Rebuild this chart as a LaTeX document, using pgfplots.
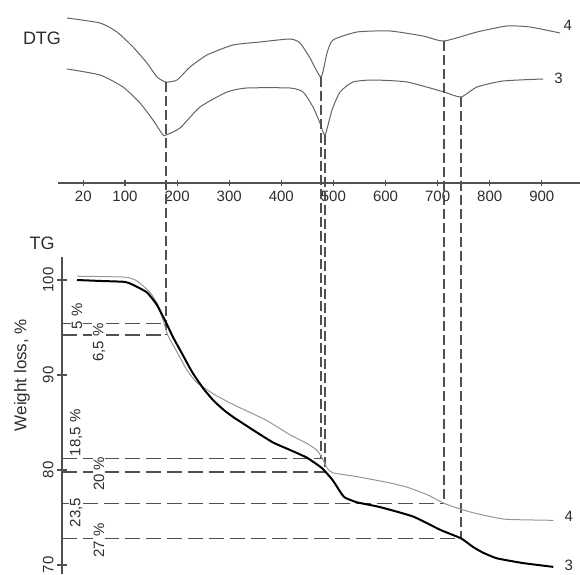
\documentclass[border=0pt]{standalone}
\usepackage{fontspec}
\setmainfont{Liberation Sans}
\usepackage{pgfplots}
\pgfplotsset{compat=1.18}

\definecolor{axisgray}{RGB}{80,80,80}
\definecolor{dtggray}{RGB}{100,100,100}
\definecolor{tgfour}{RGB}{150,150,150}
\definecolor{txt}{RGB}{45,45,45}

\pgfplotstableread{
T D
-11.3 165
52.0 160
84.6 151
115.4 136
142.2 120
161.4 106
178.7 101
199.8 103
224.8 116
257.4 128
307.3 138
359.1 141
416.7 144
435.9 140
455.1 125
476.2 106
487.7 130
499.2 143
545.3 151
608.6 152
672.0 147
712.3 142
775.6 151
833.2 157
877.4 156
934.9 150
}\dtgfour

\pgfplotstableread{
T D
-11.3 114
52.0 108
96.2 96
128.8 80
153.7 63
172.9 48
178.7 48
205.6 55
244.0 76
295.8 91
334.2 95
416.7 95
441.7 91
460.8 76
474.3 60
483.9 48
497.3 73
512.7 91
537.6 101
576.0 103
641.3 101
712.3 91
744.9 86
775.6 96
825.5 102
902.3 104
}\dtgthree

\pgfplotstableread{
T W
7.9 100.4
100 100.3
123 99.9
148 98.7
163 97.4
173 95.8
182 94.2
198 92.6
219 90.5
238 89.2
273 87.9
311 86.8
369 85.3
417 83.7
449 82.8
468 82.1
478 81.3
488 80.2
499 79.7
545 79.3
603 78.7
641 78.2
680 77.4
712 76.5
737 76.0
768 75.5
801 75.1
833 74.8
922 74.7
}\tgfour

\pgfplotstableread{
T W
7.9 100
52 99.9
100 99.8
115 99.5
142 98.7
161 97.4
179 95.5
192 94.0
209 92.3
229 90.3
250 88.6
270 87.3
290 86.3
307 85.6
346 84.2
384 82.9
417 82.1
449 81.3
478 80.2
499 78.9
513 77.7
522 77.1
545 76.6
589 76.1
653 75.1
705 73.7
745 72.8
768 71.9
787 71.3
814 70.7
864 70.2
922 69.8
}\tgthree

\begin{document}
\begin{tikzpicture}[x=1pt,y=1pt]
\useasboundingbox (0,0) rectangle (580,574);

% DTG panel
\begin{axis}[
  at={(58pt,391pt)}, anchor=south west,
  scale only axis, width=522pt, height=183pt,
  xmin=-28.6, xmax=973.3, ymin=0, ymax=183,
  axis x line*=bottom, axis y line=none,
  axis line style={axisgray, line width=1.3pt},
  xtick={20,100,200,300,400,500,600,700,800,900},
  ytick=\empty,
  tick align=center, major tick length=6pt,
  tick style={axisgray, line width=1.1pt},
  xticklabel style={font=\fontsize{15}{17}\selectfont, text=txt, yshift=-1pt},
  /pgf/number format/assume math mode=true,
  clip=false,
]
\addplot[dtggray, line width=1pt, smooth, tension=0.35] table[x=T, y=D] {\dtgfour};
\addplot[dtggray, line width=1pt, smooth, tension=0.35] table[x=T, y=D] {\dtgthree};
\node[text=txt, font=\fontsize{15}{17}\selectfont] at (axis cs:950,158) {4};
\node[text=txt, font=\fontsize{15}{17}\selectfont] at (axis cs:932,105) {3};
\end{axis}

% TG panel
\begin{axis}[
  at={(62pt,0pt)}, anchor=south west,
  scale only axis, width=518pt, height=316.8pt,
  xmin=-20.9, xmax=973.3, ymin=69.05, ymax=102.4,
  axis y line*=left, axis x line=none,
  axis line style={axisgray, line width=1.3pt},
  xtick=\empty, ytick={70,80,90,100},
  tick align=center, major tick length=10pt,
  tick style={axisgray, line width=1.1pt},
  yticklabel style={rotate=90, anchor=south, font=\fontsize{15}{17}\selectfont, text=txt},
  /pgf/number format/assume math mode=true,
  clip=false,
]
% vertical guide lines from the DTG minima
\draw[axisgray, line width=1.4pt, dash pattern=on 10pt off 4pt] (axis cs:178.7,120.8) -- (axis cs:178.7,94.2);
\draw[axisgray, line width=1.4pt, dash pattern=on 10pt off 4pt] (axis cs:476.2,121.4) -- (axis cs:476.2,81.2);
\draw[axisgray, line width=1.4pt, dash pattern=on 10pt off 4pt] (axis cs:483.9,115.3) -- (axis cs:483.9,79.8);
\draw[axisgray, line width=1.4pt, dash pattern=on 10pt off 4pt] (axis cs:712.3,125.2) -- (axis cs:712.3,76.5);
\draw[axisgray, line width=1.4pt, dash pattern=on 10pt off 4pt] (axis cs:744.9,119.3) -- (axis cs:744.9,72.8);
% horizontal guide lines
\draw[axisgray, line width=1.4pt, dash pattern=on 15pt off 6pt] (axis cs:-20.9,95.4) -- (axis cs:178.7,95.4);
\draw[axisgray, line width=1.4pt, dash pattern=on 15pt off 6pt] (axis cs:-20.9,94.2) -- (axis cs:178.7,94.2);
\draw[axisgray, line width=1.4pt, dash pattern=on 15pt off 6pt] (axis cs:-20.9,81.2) -- (axis cs:476.2,81.2);
\draw[axisgray, line width=1.4pt, dash pattern=on 15pt off 6pt] (axis cs:-20.9,79.8) -- (axis cs:483.9,79.8);
\draw[axisgray, line width=1.4pt, dash pattern=on 15pt off 6pt] (axis cs:-20.9,76.5) -- (axis cs:712.3,76.5);
\draw[axisgray, line width=1.4pt, dash pattern=on 15pt off 6pt] (axis cs:-20.9,72.8) -- (axis cs:744.9,72.8);

\addplot[tgfour, line width=1pt, smooth, tension=0.3] table[x=T, y=W] {\tgfour};
\addplot[black, line width=2pt, smooth, tension=0.3] table[x=T, y=W] {\tgthree};

\begin{scope}[every node/.style={rotate=90, fill=white, inner sep=1pt, text=txt, font=\fontsize{15}{17}\selectfont}]
\node at (axis cs:7.9,96.2) {5 \%};
\node at (axis cs:50.1,93.4) {6,5 \%};
\node at (axis cs:6.0,83.9) {18,5 \%};
\node at (axis cs:50.1,79.6) {20 \%};
\node at (axis cs:6.0,75.5) {23,5};
\node at (axis cs:50.1,72.6) {27 \%};
\end{scope}
\node[text=txt, font=\fontsize{15}{17}\selectfont] at (axis cs:952,75.1) {4};
\node[text=txt, font=\fontsize{15}{17}\selectfont] at (axis cs:952,70.0) {3};
\end{axis}

\node[text=txt, font=\fontsize{18}{20}\selectfont] at (42,536) {DTG};
\node[text=txt, font=\fontsize{18}{20}\selectfont] at (42,331) {TG};
\node[rotate=90, text=txt, font=\fontsize{17}{19}\selectfont] at (22,199) {Weight loss, \%};
\end{tikzpicture}
\end{document}
